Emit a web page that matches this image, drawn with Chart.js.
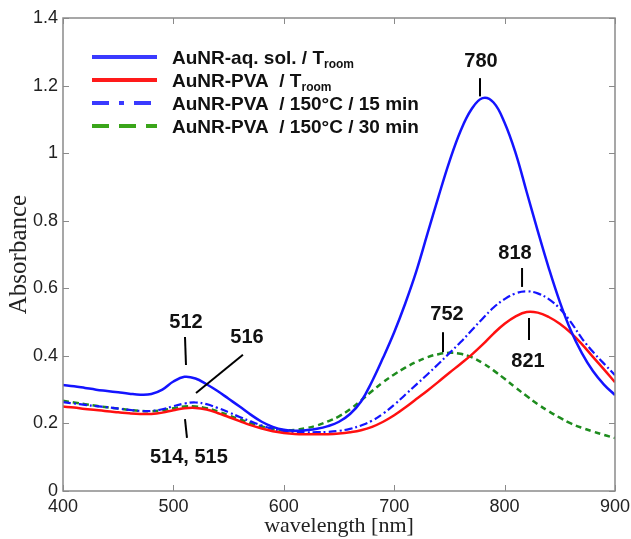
<!DOCTYPE html>
<html>
<head>
<meta charset="utf-8">
<script src="https://cdn.jsdelivr.net/npm/chart.js@4.4.1/dist/chart.umd.min.js"></script>
<style>
  html, body { margin: 0; padding: 0; background: #fff; }
  #wrap { width: 631px; height: 539px; }
</style>
</head>
<body>
<div id="wrap"><canvas id="spectra"></canvas></div>
<script>
// wavelength [nm], 10 nm step
var wavelengths = [400,410,420,430,440,450,460,470,480,490,500,510,520,530,540,550,560,570,580,590,600,
  610,620,630,640,650,660,670,680,690,700,710,720,730,740,750,760,770,780,790,800,
  810,820,830,840,850,860,870,880,890,900];

// AuNR-aq. sol. / T room
var aqSol = [.314,.310,.305,.300,.296,.292,.288,.285,.287,.300,.324,.338,.333,.316,.296,.273,.250,.226,.205,.190,.181,
  .178,.180,.184,.192,.205,.228,.265,.325,.395,.470,.555,.650,.760,.870,.975,1.065,1.130,1.163,1.150,1.090,
  1.000,.885,.770,.660,.560,.475,.408,.355,.315,.284];

// AuNR-PVA / T room
var pvaRoom = [.250,.247,.243,.240,.236,.233,.230,.228,.228,.232,.239,.245,.246,.241,.231,.219,.207,.195,.185,.177,.172,
  .169,.168,.168,.168,.170,.174,.180,.190,.205,.224,.247,.272,.297,.323,.350,.376,.403,.433,.466,.495,
  .517,.530,.528,.515,.495,.468,.435,.397,.360,.322];

// AuNR-PVA / 150°C / 15 min
var pva15 = [.263,.259,.255,.251,.248,.244,.240,.237,.237,.242,.251,.259,.262,.257,.246,.233,.219,.206,.194,.184,.178,
  .175,.174,.174,.175,.178,.184,.194,.208,.229,.255,.285,.315,.345,.376,.408,.440,.475,.510,.543,.568,
  .585,.591,.585,.568,.540,.500,.452,.412,.377,.343];

// AuNR-PVA / 150°C / 30 min
var pva30 = [.267,.262,.257,.252,.248,.244,.240,.237,.236,.239,.245,.250,.250,.245,.236,.224,.212,.201,.191,.184,.180,
  .181,.186,.194,.206,.221,.242,.268,.296,.322,.345,.365,.382,.396,.405,.409,.406,.396,.379,.357,.332,
  .306,.281,.257,.236,.217,.200,.187,.176,.166,.157];

var seriesNames = ["AuNR-aq. sol. / T", "AuNR-PVA  / T", "AuNR-PVA  / 150\u00B0C / 15 min", "AuNR-PVA  / 150\u00B0C / 30 min"];
var seriesSubs = ["room", "room", "", ""];
var seriesColors = ['#1414ff', '#ff1010', '#1414ff', '#1e8c1e'];
var legendColors = ['#3a3aff', '#ff1a1a', '#3a3aff', '#3aa51a'];

// peak labels: text position and leader line, in data units
var peakLabels = [
  { text: "780", tx: 778.6, ty: 1.27, x1: 777.7, y1: 1.222, x2: 777.7, y2: 1.168 },
  { text: "818", tx: 809.4, ty: 0.704, x1: 815.8, y1: 0.660, x2: 815.8, y2: 0.604 },
  { text: "821", tx: 821.2, ty: 0.382, x1: 822.1, y1: 0.512, x2: 822.1, y2: 0.447 },
  { text: "752", tx: 747.8, ty: 0.521, x1: 744.2, y1: 0.470, x2: 744.2, y2: 0.411 },
  { text: "512", tx: 511.4, ty: 0.500, x1: 510.5, y1: 0.456, x2: 511.4, y2: 0.373 },
  { text: "516", tx: 566.7, ty: 0.453, x1: 563.0, y1: 0.403, x2: 520.5, y2: 0.290 },
  { text: "514, 515", tx: 514.0, ty: 0.100, x1: 510.5, y1: 0.213, x2: 512.3, y2: 0.157 }
];

function pts(ys) {
  return wavelengths.map(function (w, i) { return { x: w, y: ys[i] }; });
}

var frameAndLabels = {
  id: 'frameAndLabels',
  afterDatasetsDraw: function (chart) {
    var c = chart.ctx, a = chart.chartArea;
    var xs = chart.scales.x, ys = chart.scales.y;
    c.save();
    // box
    c.strokeStyle = '#8a8a8a';
    c.lineWidth = 1.5;
    c.strokeRect(a.left, a.top, a.right - a.left, a.bottom - a.top);
    // inward ticks
    c.lineWidth = 1;
    c.beginPath();
    xs.ticks.forEach(function (t) {
      var px = Math.round(xs.getPixelForValue(t.value)) + 0.5;
      c.moveTo(px, a.bottom); c.lineTo(px, a.bottom - 6);
      c.moveTo(px, a.top); c.lineTo(px, a.top + 6);
    });
    ys.ticks.forEach(function (t) {
      var py = Math.round(ys.getPixelForValue(t.value)) + 0.5;
      c.moveTo(a.left, py); c.lineTo(a.left + 6, py);
      c.moveTo(a.right, py); c.lineTo(a.right - 6, py);
    });
    c.stroke();

    // legend
    var dashes = [[], [], [17, 10, 5, 10], [17, 10]];
    for (var i = 0; i < seriesNames.length; i++) {
      var ly = 57 + i * 23;
      c.strokeStyle = legendColors[i];
      c.lineWidth = 4;
      c.setLineDash(dashes[i]);
      c.beginPath(); c.moveTo(92, ly); c.lineTo(157, ly); c.stroke();
      c.setLineDash([]);
      c.fillStyle = '#111';
      c.textBaseline = 'middle';
      c.textAlign = 'left';
      c.font = 'bold 19px "Liberation Sans", Arial, sans-serif';
      c.fillText(seriesNames[i], 172, ly + 2);
      if (seriesSubs[i]) {
        var w = c.measureText(seriesNames[i]).width;
        c.font = 'bold 12px "Liberation Sans", Arial, sans-serif';
        c.fillText(seriesSubs[i], 172 + w, ly + 8);
      }
    }

    // peak labels
    c.strokeStyle = '#000';
    c.lineWidth = 2;
    c.fillStyle = '#111';
    c.textAlign = 'center';
    c.textBaseline = 'middle';
    c.font = 'bold 20px "Liberation Sans", Arial, sans-serif';
    peakLabels.forEach(function (p) {
      c.beginPath();
      c.moveTo(xs.getPixelForValue(p.x1), ys.getPixelForValue(p.y1));
      c.lineTo(xs.getPixelForValue(p.x2), ys.getPixelForValue(p.y2));
      c.stroke();
      c.fillText(p.text, xs.getPixelForValue(p.tx), ys.getPixelForValue(p.ty));
    });
    c.restore();
  }
};

var ctx = document.getElementById('spectra');
var chart = new Chart(ctx, {
  type: 'line',
  data: {
    datasets: [
      { label: 'aq', data: pts(aqSol), borderColor: seriesColors[0], borderWidth: 2.5 },
      { label: 'pva', data: pts(pvaRoom), borderColor: seriesColors[1], borderWidth: 2.5 },
      { label: 'pva15', data: pts(pva15), borderColor: seriesColors[2], borderWidth: 2.2, borderDash: [8, 3, 2, 3] },
      { label: 'pva30', data: pts(pva30), borderColor: seriesColors[3], borderWidth: 2.5, borderDash: [6, 4] }
    ]
  },
  options: {
    responsive: true,
    maintainAspectRatio: false,
    animation: false,
    layout: { padding: { top: 18, right: 16, left: 0, bottom: 0 } },
    elements: {
      point: { radius: 0 },
      line: { tension: 0.4, fill: false }
    },
    plugins: { legend: { display: false }, tooltip: { enabled: false } },
    scales: {
      x: {
        type: 'linear', min: 400, max: 900,
        grid: { display: false, drawTicks: false },
        border: { display: false },
        ticks: { stepSize: 100, padding: 5, color: '#222',
          font: { size: 18, family: '"Liberation Sans", Arial, sans-serif' } },
        title: { display: true, text: 'wavelength [nm]', color: '#222', padding: 0,
          font: { size: 22, family: '"Liberation Serif", "Times New Roman", serif' } },
        afterFit: function (s) { s.height = 48; s.paddingRight = 0; s.paddingLeft = 0; }
      },
      y: {
        min: 0, max: 1.4,
        grid: { display: false, drawTicks: false },
        border: { display: false },
        ticks: { stepSize: 0.2, padding: 5, color: '#222',
          font: { size: 18, family: '"Liberation Sans", Arial, sans-serif' },
          callback: function (v) { return String(Math.round(v * 10) / 10); } },
        title: { display: true, text: 'Absorbance', color: '#222', padding: 4,
          font: { size: 25, family: '"Liberation Serif", "Times New Roman", serif' } },
        afterFit: function (s) { s.width = 63; }
      }
    }
  },
  plugins: [frameAndLabels]
});
</script>
</body>
</html>
